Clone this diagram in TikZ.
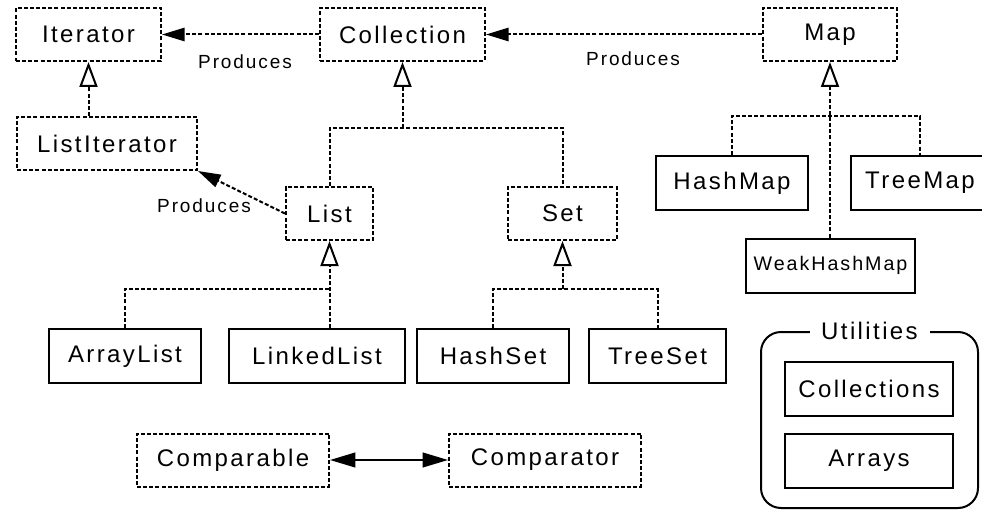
\documentclass[tikz,border=0pt]{standalone}
\usepackage{fontspec}
\setmainfont[LetterSpace=10]{Liberation Sans}
\usetikzlibrary{arrows.meta}

\begin{document}
\begin{tikzpicture}[x=0.75pt, y=-0.75pt,
  bw/.style={minimum width=#1*0.75pt},
  iface/.style={draw, line width=1.5pt, dash pattern=on 3pt off 1.6pt,
    minimum height=39.75pt, inner sep=0pt, font=\fontsize{18}{20}\selectfont},
  cls/.style={draw, line width=1.5pt, minimum height=40.5pt, inner sep=0pt,
    font=\fontsize{18}{20}\selectfont},
  tree/.style={line width=1.5pt, dash pattern=on 3pt off 1.6pt},
  dep/.style={tree, -{Triangle[length=17pt,width=10pt]}},
  inh/.style={tree, -{Triangle[open,length=18.75pt,width=13.5pt]}},
  both/.style={line width=1.5pt, {Triangle[length=19pt,width=11pt]}-{Triangle[length=19pt,width=11pt]}},
  lbl/.style={font=\fontsize{14.25}{16}\selectfont}]
\useasboundingbox (0,0) rectangle (982,510);
% interfaces
\node[iface, bw=145] (iter) at (88.5,34.5) {Iterator};
\node[iface, bw=165] (coll) at (402.5,34.5) {Collection};
\node[iface, bw=134] (map) at (830,34.5) {Map};
\node[iface, bw=180] (listiter) at (107,143.5) {ListIterator};
\node[iface, bw=87] (list) at (329.5,213.5) {List};
\node[iface, bw=109] (set) at (562.5,213.5) {Set};
\node[iface, bw=192] (comparable) at (233,460) {Comparable};
\node[iface, bw=192] (comparator) at (545,460) {Comparator};
% classes
\node[cls, bw=152] (hashmap) at (732,183) {HashMap};
\node[cls, bw=138] (treemap) at (920,183) {TreeMap};
\node[cls, bw=169, font=\fontsize{14.75}{16}\selectfont] (weakhashmap) at (830.5,265.5) {WeakHashMap};
\node[cls, bw=152] (arraylist) at (125,356) {ArrayList};
\node[cls, bw=176] (linkedlist) at (317,356) {LinkedList};
\node[cls, bw=152] (hashset) at (493,356) {HashSet};
\node[cls, bw=137] (treeset) at (657.5,356) {TreeSet};
% utilities
\node[draw, line width=1.5pt, rounded corners=15pt, minimum width=217*0.75pt,
  minimum height=176*0.75pt] (utilities) at (869.5,420) {};
\node[fill=white, inner sep=0pt, minimum width=90pt, minimum height=14pt,
  font=\fontsize{18}{20}\selectfont] (utillbl) at (utilities.north) {Utilities};
\node[cls, bw=168] (collections) at (869,388.5) {Collections};
\node[cls, bw=168] (arrays) at (869,460.5) {Arrays};
% produces
\draw[dep] (coll.west) -- (iter.east);
\node[lbl] (prod1) at (245,62) {Produces};
\draw[dep] (map.west) -- (coll.east);
\node[lbl] (prod2) at (633,59) {Produces};
\draw[dep] (list.west) -- (listiter.south east);
\node[lbl] (prod3) at (204,206) {Produces};
% inheritance
\draw[inh] (iter.south |- listiter.north) -- (iter.south);
\coordinate (colljoin) at (402.5,128);
\draw[tree] (list.north) |- (colljoin) -| (set.north);
\draw[inh] (colljoin) -- (coll.south);
\coordinate (mapjoin) at (830,116);
\draw[tree] (hashmap.north) |- (mapjoin) -| (treemap.north);
\draw[inh] (map.south |- weakhashmap.north) -- (map.south);
\coordinate (listjoin) at (329.5,289);
\draw[tree] (arraylist.north) |- (listjoin);
\draw[inh] (listjoin |- linkedlist.north) -- (list.south);
\coordinate (setjoin) at (562.5,289);
\draw[tree] (hashset.north) |- (setjoin) -| (treeset.north);
\draw[inh] (setjoin) -- (set.south);
\draw[both] (comparable.east) -- (comparator.west);
\end{tikzpicture}
\end{document}
